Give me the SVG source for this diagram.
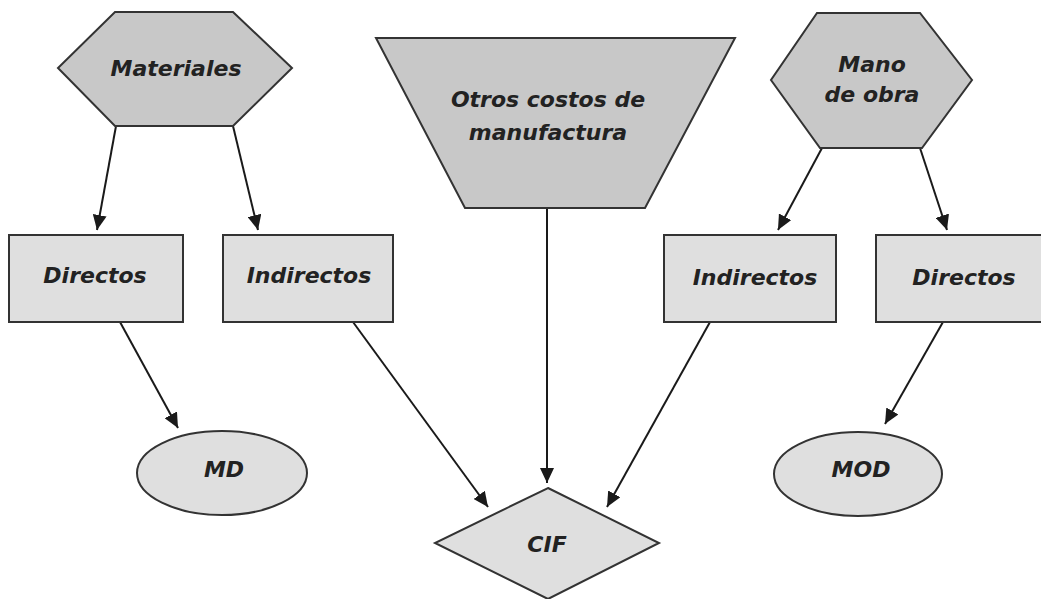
<svg xmlns="http://www.w3.org/2000/svg" width="1041" height="599" viewBox="0 0 1041 599">
<defs>
<marker id="arr" markerUnits="userSpaceOnUse" markerWidth="16" markerHeight="14" refX="15" refY="7" orient="auto">
<path d="M0,0 L15,7 L0,14 Z" fill="#1a1a1a"/>
</marker>
</defs>
<style>
.dark{fill:#c8c8c8;stroke:#333;stroke-width:2}
.light{fill:#dfdfdf;stroke:#333;stroke-width:2}
.t{font-family:"DejaVu Sans","Liberation Sans",sans-serif;font-weight:bold;font-style:italic;font-size:22px;fill:#222;text-anchor:middle}
.c{fill:none;stroke:#1a1a1a;stroke-width:2;marker-end:url(#arr)}
</style>
<rect width="1041" height="599" fill="#fff"/>
<g id="connectors">
<line class="c" x1="116" y1="126" x2="97" y2="230"/>
<line class="c" x1="233" y1="126" x2="258" y2="230"/>
<line class="c" x1="120" y1="322" x2="178" y2="428"/>
<line class="c" x1="353" y1="322" x2="488" y2="507"/>
<line class="c" x1="547" y1="208" x2="547" y2="483"/>
<line class="c" x1="710" y1="322" x2="607" y2="507"/>
<line class="c" x1="822" y1="148" x2="778" y2="230"/>
<line class="c" x1="920" y1="148" x2="947" y2="230"/>
<line class="c" x1="943" y1="322" x2="885" y2="424"/>
</g>
<g id="materiales">
<polygon class="dark" points="115,12 233,12 292,68 233,126 115,126 58,68"/>
<text class="t" x="176" y="76">Materiales</text>
</g>
<g id="otros">
<polygon class="dark" points="376,38 735,38 645,208 465,208"/>
<text class="t" x="548" y="107">Otros costos de</text>
<text class="t" x="548" y="140">manufactura</text>
</g>
<g id="mano">
<polygon class="dark" points="817,13 920,13 972,80 922,148 820,148 771,80"/>
<text class="t" x="872" y="72">Mano</text>
<text class="t" x="872" y="102">de obra</text>
</g>
<g id="directos-l">
<rect class="light" x="9" y="235" width="174" height="87"/>
<text class="t" x="95" y="283">Directos</text>
</g>
<g id="indirectos-l">
<rect class="light" x="223" y="235" width="170" height="87"/>
<text class="t" x="309" y="283">Indirectos</text>
</g>
<g id="indirectos-r">
<rect class="light" x="664" y="235" width="172" height="87"/>
<text class="t" x="755" y="285">Indirectos</text>
</g>
<g id="directos-r">
<rect class="light" x="876" y="235" width="172" height="87"/>
<text class="t" x="964" y="285">Directos</text>
</g>
<g id="md">
<ellipse class="light" cx="222" cy="473" rx="85" ry="42"/>
<text class="t" x="224" y="477">MD</text>
</g>
<g id="mod">
<ellipse class="light" cx="858" cy="474" rx="84" ry="42"/>
<text class="t" x="861" y="477">MOD</text>
</g>
<g id="cif">
<polygon class="light" points="548,488 659,543 548,599 435,543"/>
<text class="t" x="547" y="552">CIF</text>
</g>
</svg>
